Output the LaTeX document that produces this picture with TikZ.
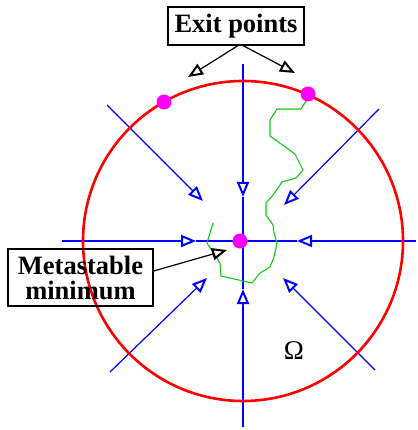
\documentclass[tikz,border=0pt]{standalone}
\usepackage{fontspec}
\setmainfont{Liberation Serif}
\usetikzlibrary{arrows.meta}
\definecolor{walkgreen}{RGB}{20,200,20}
\definecolor{dotmag}{RGB}{255,0,255}

\begin{document}
\begin{tikzpicture}[
    x=1pt, y=-1pt,
    flow/.style={blue, line width=1.2pt,
                 -{Triangle[open, length=15pt, width=12pt, line width=2pt]}},
    axis/.style={blue, line width=1.2pt},
    lbl/.style={draw, line width=1.2pt, inner sep=0pt, align=center,
                font=\fontsize{26.5}{25}\selectfont\bfseries},
    pt/.style={circle, fill=dotmag, inner sep=0pt, minimum size=15pt},
    ptr/.style={black, line width=1.2pt,
                -{Triangle[open, length=15pt, width=12pt, line width=2pt]}},
  ]
  \useasboundingbox (0,0) rectangle (417,430);

  % --- campo di deriva: croce e diagonali ---
  \coordinate (top)  at (243,64);   \coordinate (tt) at (243,197);
  \coordinate (bot)  at (243,427);  \coordinate (tb) at (243,289);
  \coordinate (lft)  at (62,241);   \coordinate (tl) at (196,241);
  \coordinate (rgt)  at (416,241);  \coordinate (tr) at (297,241);
  \draw[flow] (top) -- (tt);  \draw[axis] (tt) -- (tb);
  \draw[flow] (bot) -- (tb);
  \draw[flow] (lft) -- (tl);  \draw[axis] (tl) -- (tr);
  \draw[flow] (rgt) -- (tr);

  \draw[flow] (107,105) -- (203,201);
  \draw[flow] (379,109) -- (284,205);
  \draw[flow] (110,372) -- (207,278);
  \draw[flow] (375,370) -- (283,278);

  % --- dominio ---
  \draw[red, line width=2.6pt] (243,241) circle[radius=160];
  \node[font=\fontsize{27}{27}\selectfont] (omega) at (294,351) {Ω};

  % --- traiettoria ---
  \draw[walkgreen, line width=1.1pt]
       (213,223) -- (207,243) -- (220,263) -- (221,276) -- (252,283)
    -- (260,273) -- (270,267) -- (274,257) -- (277,243) -- (274,233)
    -- (273,225) -- (266,215) -- (266,203) -- (273,195) -- (282,182)
    -- (296,178) -- (303,170) -- (295,154) -- (270,136) -- (270,120)
    -- (277,109) -- (301,109) -- (308,98);

  % --- punti ---
  \node[pt] (mini)  at (240,241) {};
  \node[pt] (exitl) at (164,102) {};
  \node[pt] (exitr) at (308,94)  {};

  % --- etichette ---
  \node[lbl, minimum width=136pt, minimum height=38pt] (exitlbl) at (236,26)
       {Exit points};
  \coordinate (al) at (188,77);
  \coordinate (ar) at (295,73);
  \draw[ptr] ([xshift=2pt]exitlbl.south) -- (al);
  \draw[ptr] ([xshift=7pt]exitlbl.south) -- (ar);

  \node[lbl, minimum width=145pt, minimum height=57pt] (metalbl) at (80.5,277.5)
       {Metastable\\minimum};
  \coordinate (am) at (227,250);
  \draw[ptr] ([yshift=6.5pt]metalbl.east) -- (am);

\end{tikzpicture}
\end{document}
